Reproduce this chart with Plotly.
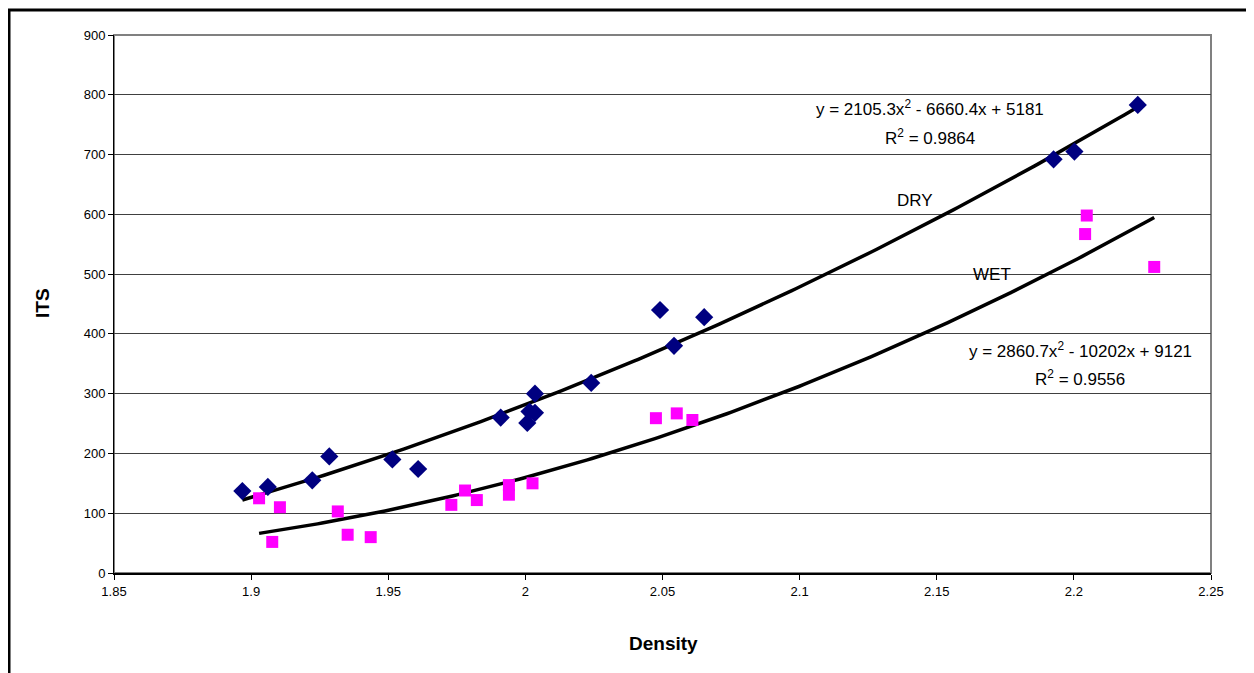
import numpy as np
import plotly.graph_objects as go

# DRY data (Density, ITS)
dry_density = [1.8968, 1.9061, 1.9223, 1.9285, 1.9515, 1.9609, 1.9910, 2.0035, 2.0015,
               2.0035, 2.0007, 2.0240, 2.0491, 2.0542, 2.0652, 2.1926, 2.2002, 2.2233]
dry_its = [137, 144, 155, 195, 190, 174, 260, 300, 270, 268, 251, 318, 440, 380, 428, 692, 705, 783]

# WET data (Density, ITS)
wet_density = [1.9029, 1.9105, 1.9077, 1.9316, 1.9352, 1.9436, 1.9730, 1.9780, 1.9823,
               1.9940, 1.9940, 2.0026, 2.0476, 2.0552, 2.0609, 2.2047, 2.2041, 2.2293]
wet_its = [125, 110, 52, 103, 64, 60, 114, 138, 122, 147, 131, 150, 259, 267, 256, 598, 567, 512]

# Polynomial trendline coefficients (a, b, c) as displayed
dry_coef = [2105.3, -6660.4, 5181]
wet_coef = [2860.7, -10202, 9121]

x_ticks = [1.85, 1.9, 1.95, 2, 2.05, 2.1, 2.15, 2.2, 2.25]
y_ticks = [0, 100, 200, 300, 400, 500, 600, 700, 800, 900]

FONT = "Liberation Sans, Arial, sans-serif"

def trend(coef, xs):
    xs = np.linspace(min(xs), max(xs), 200)
    return xs, np.polyval(coef, xs)

fig = go.Figure()

dx, dy = trend(dry_coef, dry_density)
wx, wy = trend(wet_coef, wet_density)
fig.add_trace(go.Scatter(x=dx, y=dy, mode="lines", line=dict(color="black", width=3.5),
                         hoverinfo="skip", showlegend=False))
fig.add_trace(go.Scatter(x=wx, y=wy, mode="lines", line=dict(color="black", width=3.5),
                         hoverinfo="skip", showlegend=False))

fig.add_trace(go.Scatter(x=dry_density, y=dry_its, mode="markers", name="DRY",
                         marker=dict(symbol="diamond", size=14, color="#000080",
                                     line=dict(width=0))))
fig.add_trace(go.Scatter(x=wet_density, y=wet_its, mode="markers", name="WET",
                         marker=dict(symbol="square", size=12, color="#FF00FF",
                                     line=dict(width=0))))

# page offset (body margin) in px
OFF = 8
FW, FH = 1246, 665
L, R, T, B = 114 - OFF, 1211 - OFF, 35 - OFF, 573 - OFF
W, H = R - L, B - T

def px(x):
    return (x - OFF - L) / W

def py(y):
    return (B - (y - OFF)) / H

annotations = [
    dict(x=930, y=108, text="y = 2105.3x<sup>2</sup> - 6660.4x + 5181"),
    dict(x=930, y=137, text="R<sup>2</sup> = 0.9864"),
    dict(x=1080, y=350, text="y = 2860.7x<sup>2</sup> - 10202x + 9121"),
    dict(x=1080, y=378, text="R<sup>2</sup> = 0.9556"),
    dict(x=915, y=200, text="DRY"),
    dict(x=992, y=274, text="WET"),
]
ann = []
for a in annotations:
    ann.append(dict(x=px(a["x"]), y=py(a["y"]), xref="paper", yref="paper",
                    text=a["text"], showarrow=False,
                    font=dict(family=FONT, size=17, color="black"),
                    xanchor="center", yanchor="middle"))

ann.append(dict(x=px(42), y=py(303), xref="paper", yref="paper", text="<b>ITS</b>",
                textangle=-90, showarrow=False, font=dict(family=FONT, size=19, color="black"),
                xanchor="center", yanchor="middle"))
ann.append(dict(x=px(663), y=py(643), xref="paper", yref="paper", text="<b>Density</b>",
                showarrow=False, font=dict(family=FONT, size=19, color="black"),
                xanchor="center", yanchor="middle"))

shapes = [
    # plot area border (gray)
    dict(type="rect", xref="paper", yref="paper", x0=0, y0=0, x1=1, y1=1,
         line=dict(color="#808080", width=2), layer="below"),
    # outer chart frame
    dict(type="rect", xref="paper", yref="paper",
         x0=px(9), x1=px(1300), y0=py(720), y1=py(10),
         line=dict(color="black", width=3)),
]

fig.update_layout(
    width=FW, height=FH,
    margin=dict(l=L, r=FW - R, t=T, b=FH - B),
    paper_bgcolor="white", plot_bgcolor="white",
    showlegend=False,
    font=dict(family=FONT, size=13, color="black"),
    annotations=ann, shapes=shapes,
    xaxis=dict(range=[1.85, 2.25], tickvals=x_ticks, ticktext=[f"{v:g}" for v in x_ticks],
               showgrid=False, zeroline=False, showline=True, linecolor="black", linewidth=2,
               ticks="outside", ticklen=5, tickcolor="black", tickfont=dict(size=13),
               fixedrange=True),
    yaxis=dict(range=[0, 900], tickvals=y_ticks, showgrid=True, gridcolor="#404040", gridwidth=1,
               zeroline=False, showline=True, linecolor="black", linewidth=1,
               ticks="outside", ticklen=5, tickcolor="black", tickfont=dict(size=13),
               fixedrange=True),
)

fig.write_html("out.html")
